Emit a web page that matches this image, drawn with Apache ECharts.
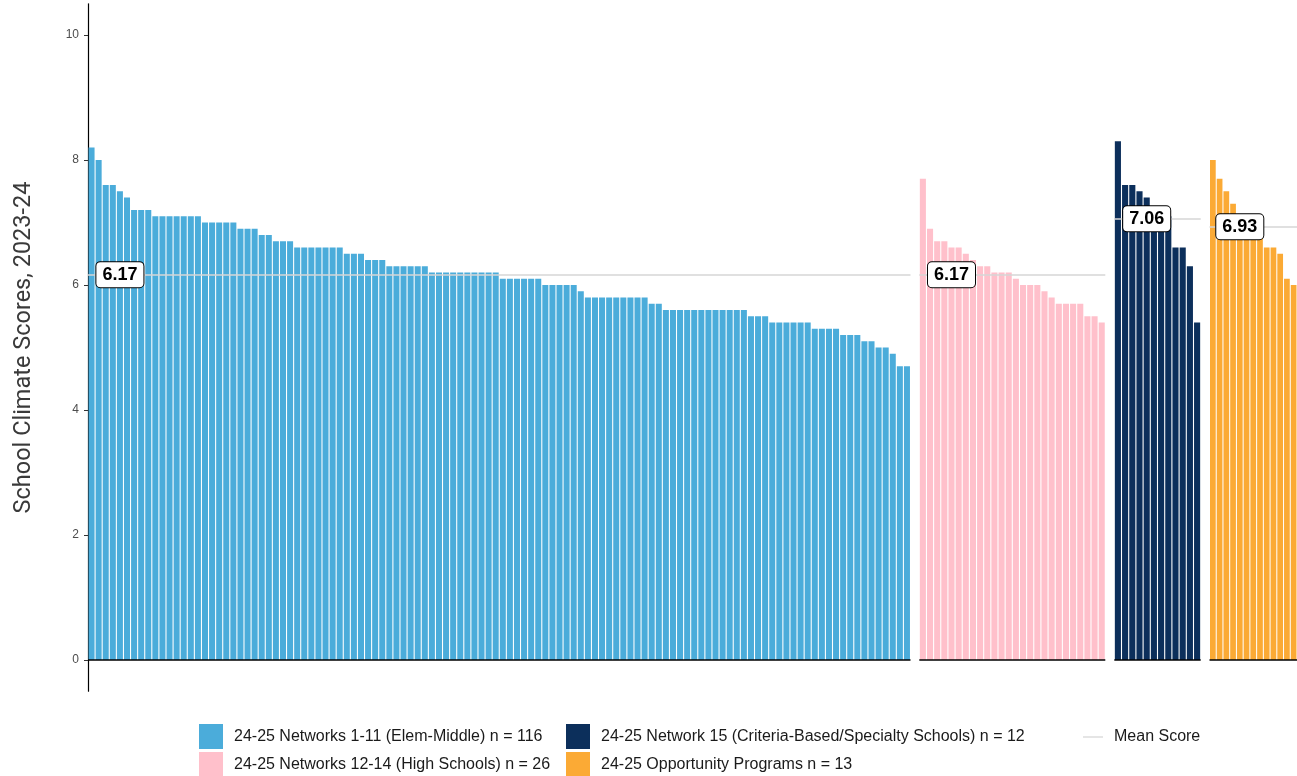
<!DOCTYPE html>
<html><head><meta charset="utf-8">
<script src="https://cdn.jsdelivr.net/npm/echarts@6/dist/echarts.min.js"></script>
<style>html,body{margin:0;padding:0;background:#fff}#c{width:1297px;height:776px}</style>
</head><body><div id="c"></div>
<script>
// ---------- data ----------
const groupNames = [
  '24-25 Networks 1-11 (Elem-Middle) n = 116',
  '24-25 Networks 12-14 (High Schools) n = 26',
  '24-25 Network 15 (Criteria-Based/Specialty Schools) n = 12',
  '24-25 Opportunity Programs n = 13'
];
const meanName = 'Mean Score';
const elemMiddle = [
  8.2, 8.0, 7.6, 7.6, 7.5, 7.4, 7.2, 7.2, 7.2,
  7.1, 7.1, 7.1, 7.1, 7.1, 7.1, 7.1,
  7.0, 7.0, 7.0, 7.0, 7.0,
  6.9, 6.9, 6.9, 6.8, 6.8, 6.7, 6.7, 6.7,
  6.6, 6.6, 6.6, 6.6, 6.6, 6.6, 6.6,
  6.5, 6.5, 6.5, 6.4, 6.4, 6.4,
  6.3, 6.3, 6.3, 6.3, 6.3, 6.3,
  6.2, 6.2, 6.2, 6.2, 6.2, 6.2, 6.2, 6.2, 6.2, 6.2,
  6.1, 6.1, 6.1, 6.1, 6.1, 6.1,
  6.0, 6.0, 6.0, 6.0, 6.0,
  5.9,
  5.8, 5.8, 5.8, 5.8, 5.8, 5.8, 5.8, 5.8, 5.8,
  5.7, 5.7,
  5.6, 5.6, 5.6, 5.6, 5.6, 5.6, 5.6, 5.6, 5.6, 5.6, 5.6, 5.6,
  5.5, 5.5, 5.5,
  5.4, 5.4, 5.4, 5.4, 5.4, 5.4,
  5.3, 5.3, 5.3, 5.3,
  5.2, 5.2, 5.2,
  5.1, 5.1, 5.0, 5.0, 4.9, 4.7, 4.7
];
const highSchools = [7.7, 6.9, 6.7, 6.7, 6.6, 6.6, 6.5, 6.4, 6.3, 6.3, 6.2, 6.2, 6.2,
  6.1, 6.0, 6.0, 6.0, 5.9, 5.8, 5.7, 5.7, 5.7, 5.7, 5.5, 5.5, 5.4];
const specialty = [8.3, 7.6, 7.6, 7.5, 7.4, 7.2, 7.1, 7.1, 6.6, 6.6, 6.3, 5.4];
const opportunity = [8.0, 7.7, 7.5, 7.3, 7.1, 7.0, 6.9, 6.8, 6.6, 6.6, 6.5, 6.1, 6.0];
const yTicks = [0, 2, 4, 6, 8, 10];
const yTitle = 'School Climate Scores, 2023-24';

// ---------- styling / layout ----------
const groupValues = [elemMiddle, highSchools, specialty, opportunity];
const colors = ['#4BACDA', '#FFC0CB', '#0C2F5B', '#FBAA35'];
const meanColor = '#d6d6d6';
const panels = [
  {left: 88, width: 822.5},
  {left: 919.3, width: 186},
  {left: 1114.3, width: 86.4},
  {left: 1209.5, width: 92.3}
];
const gridTop = 3.75, gridHeight = 687.5;
const FONT = "'Liberation Sans', Arial, sans-serif";

const grids = [], xAxes = [], yAxes = [], series = [];
groupValues.forEach((vals, i) => {
  grids.push({left: panels[i].left, width: panels[i].width, top: gridTop, height: gridHeight, containLabel: false});
  xAxes.push({
    type: 'category', gridIndex: i, show: false,
    data: vals.map((_, k) => String(k + 1))
  });
  yAxes.push({
    type: 'value', gridIndex: i, min: -0.5, max: 10.5, show: i === 0,
    splitLine: {show: false},
    axisLine: {show: true, lineStyle: {color: '#000', width: 1.2}},
    axisTick: {show: true, customValues: yTicks, length: 4, lineStyle: {color: '#333', width: 1}},
    axisLabel: {show: true, customValues: yTicks, color: '#4d4d4d', fontSize: 12, fontFamily: FONT, margin: 9},
    name: i === 0 ? yTitle : '',
    nameLocation: 'middle', nameGap: 52,
    nameTextStyle: {fontSize: 23.5, fontFamily: 'Roboto', color: '#3a3a3a'}
  });
  const mean = vals.reduce((a, b) => a + b, 0) / vals.length;
  series.push({
    type: 'bar', name: groupNames[i], xAxisIndex: i, yAxisIndex: i,
    data: vals, barCategoryGap: '15%',
    itemStyle: {color: colors[i]},
    emphasis: {disabled: true},
    markLine: {
      silent: true, symbol: ['none', 'none'], z: 5,
      label: {show: false},
      emphasis: {disabled: true},
      data: [
        {yAxis: 0, lineStyle: {color: '#000', width: 1.6, type: 'solid'}},
        {yAxis: mean, lineStyle: {color: meanColor, width: 1.6, type: 'solid'}}
      ]
    },
    markPoint: {
      silent: true, z: 8,
      symbol: 'rect', symbolSize: 1, itemStyle: {color: 'rgba(0,0,0,0)'},
      data: [{coord: [4, mean], value: mean}],
      label: {
        show: true, position: 'inside',
        formatter: p => p.value.toFixed(2),
        fontFamily: FONT, fontWeight: 'bold', fontSize: 18, color: '#000',
        backgroundColor: '#fff', borderColor: '#000', borderWidth: 1, borderRadius: 4,
        padding: [3, 6, 2, 6], lineHeight: 20
      }
    }
  });
});
// legend-only series for the mean line
series.push({
  type: 'scatter', name: meanName, xAxisIndex: 0, yAxisIndex: 0, data: [],
  symbol: 'rect', itemStyle: {color: meanColor}
});

const legendText = {fontSize: 16, fontFamily: FONT, color: '#1a1a1a', padding: [8, 0, 0, 6]};
const legendTextMean = {fontSize: 16, fontFamily: FONT, color: '#1a1a1a', padding: [4, 0, 0, 6]};
const option = {
  animation: false,
  backgroundColor: '#fff',
  grid: grids, xAxis: xAxes, yAxis: yAxes, series,
  legend: [
    {left: 199, top: 724, height: 100, padding: 0, orient: 'vertical', itemWidth: 24, itemHeight: 25, itemGap: 3, icon: 'rect',
     data: [groupNames[0], groupNames[1]], textStyle: legendText, selectedMode: false},
    {left: 566, top: 724, height: 100, padding: 0, orient: 'vertical', itemWidth: 24, itemHeight: 25, itemGap: 3, icon: 'rect',
     data: [groupNames[2], groupNames[3]], textStyle: legendText, selectedMode: false},
    {left: 1083, top: 729, padding: 0, orient: 'vertical', itemWidth: 20, itemHeight: 1.6, icon: 'rect',
     data: [meanName], textStyle: legendTextMean, selectedMode: false}
  ]
};
const chart = echarts.init(document.getElementById('c'), null, {renderer: 'canvas'});
chart.setOption(option);
</script>
</body></html>
